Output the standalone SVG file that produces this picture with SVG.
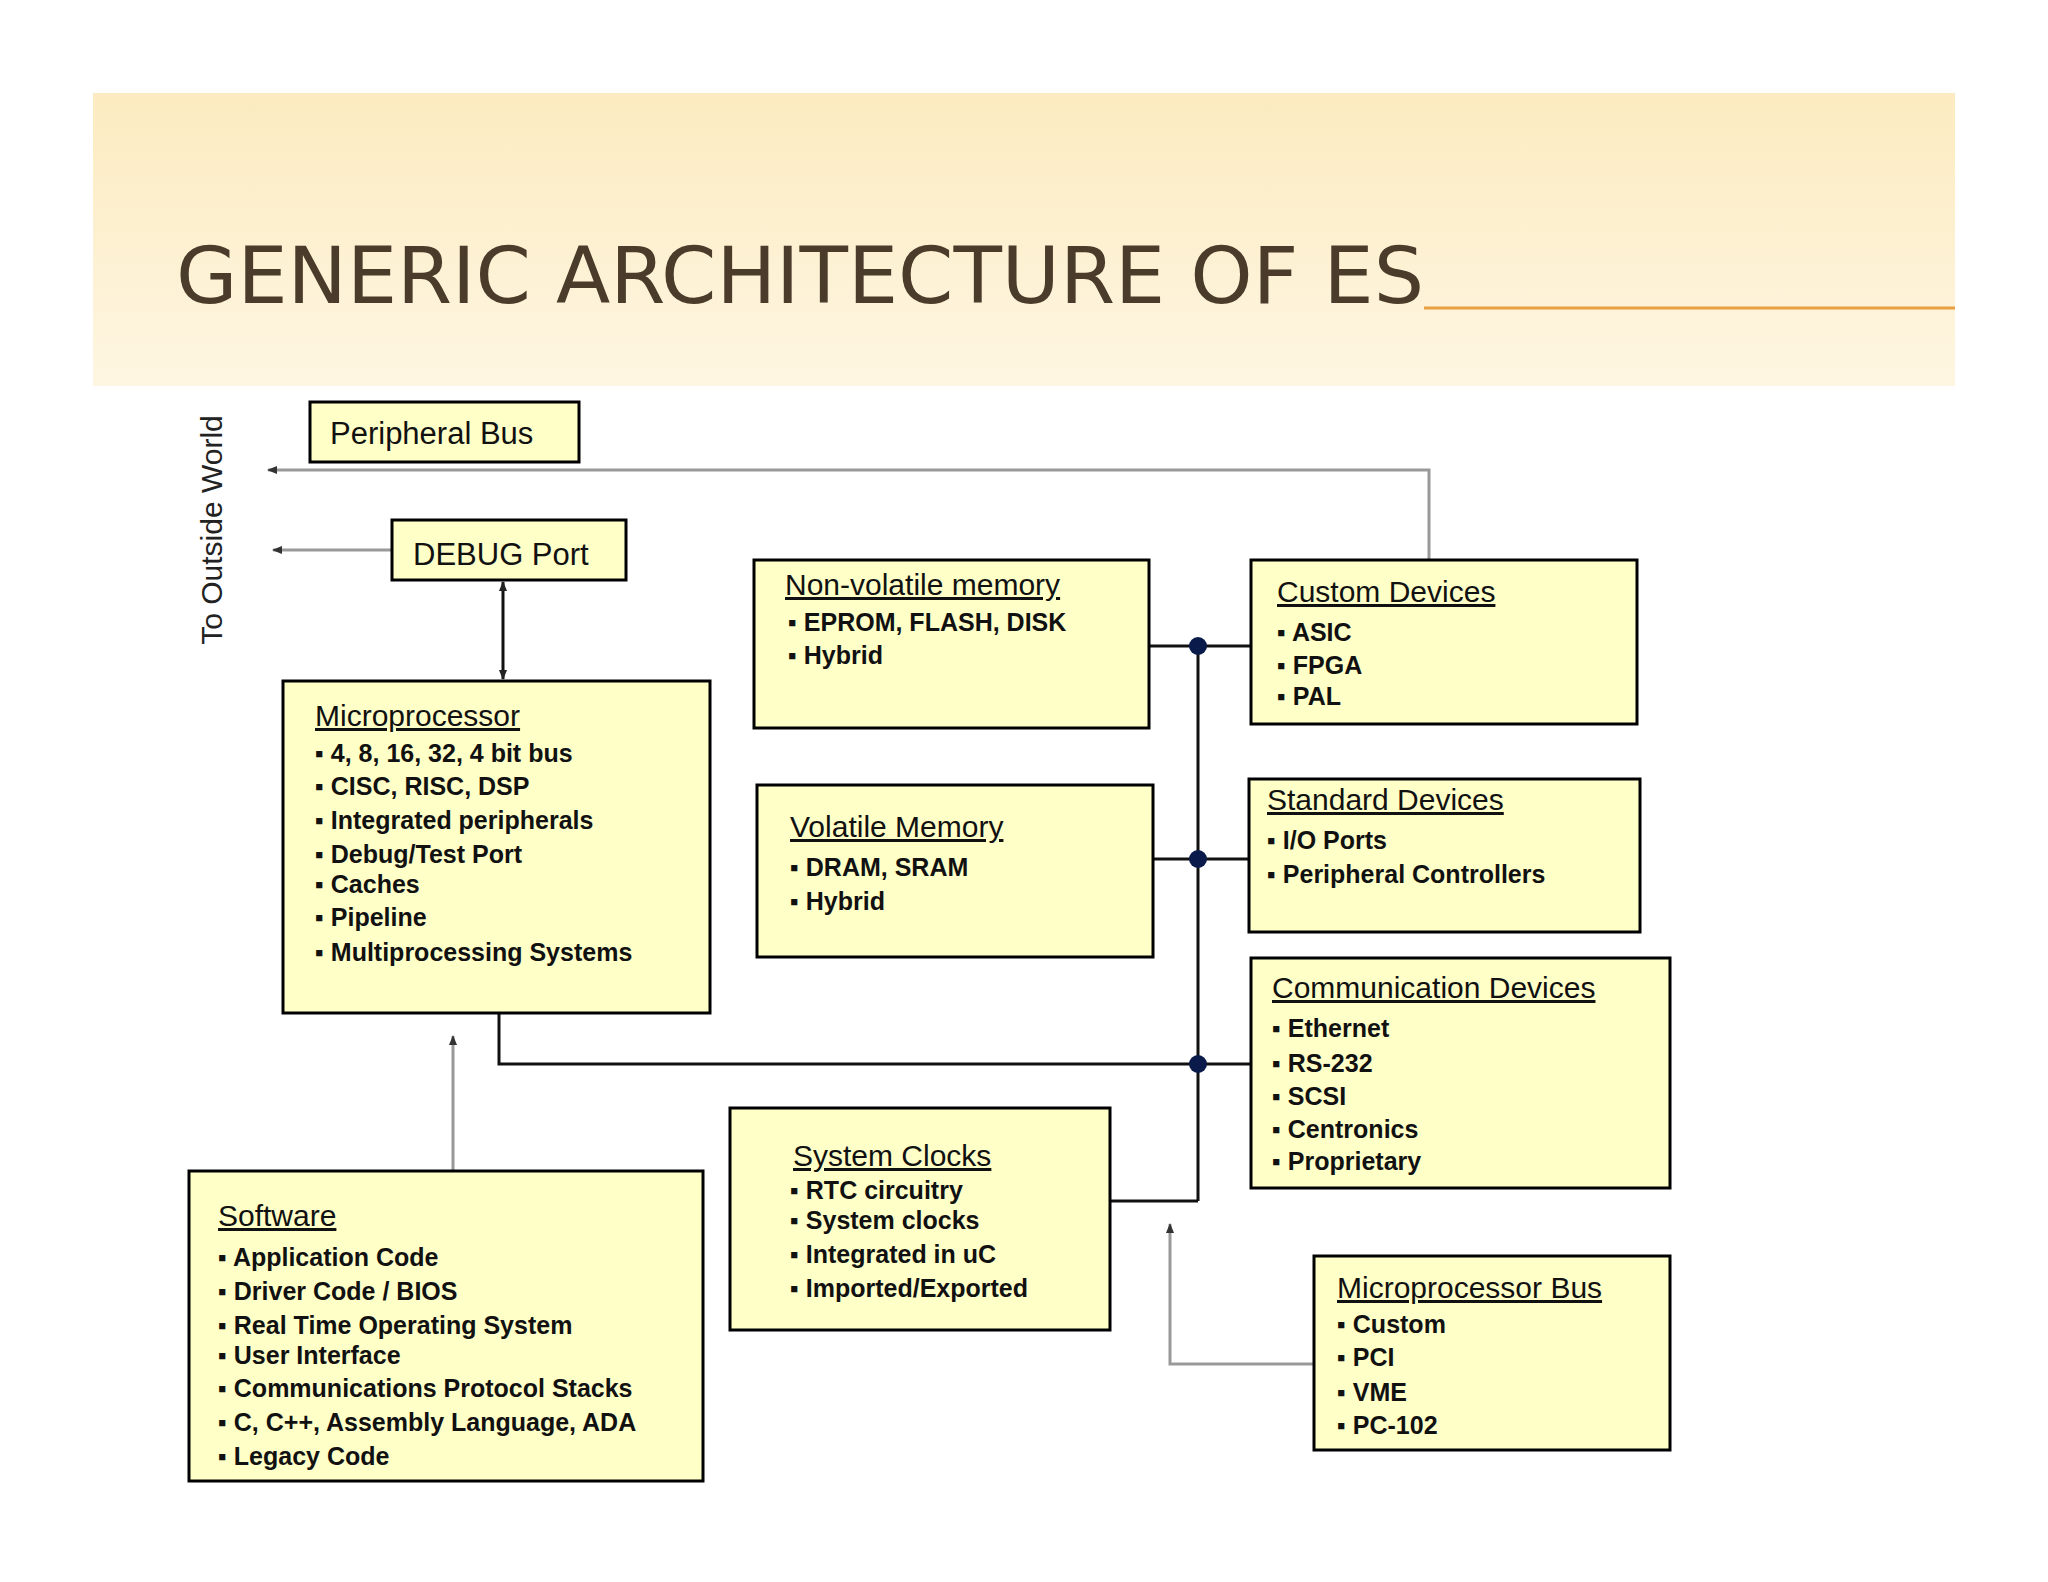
<svg xmlns="http://www.w3.org/2000/svg" width="2048" height="1582" viewBox="0 0 2048 1582">
<defs>
<linearGradient id="bg" x1="0" y1="0" x2="0" y2="1"><stop offset="0" stop-color="#FCEBC0"/><stop offset="1" stop-color="#FEF6E2"/></linearGradient>
<marker id="ah" markerWidth="10" markerHeight="10" refX="9" refY="5" orient="auto-start-reverse" markerUnits="userSpaceOnUse"><path d="M0,1 L10,5 L0,9 Z" fill="#222"/></marker>
<marker id="ahg" markerWidth="10" markerHeight="10" refX="9" refY="5" orient="auto" markerUnits="userSpaceOnUse"><path d="M0,1 L10,5 L0,9 Z" fill="#333"/></marker>
</defs>
<style>
.box{fill:#FFFFC8;stroke:#000;stroke-width:3}
.t{font-family:"Liberation Sans",Arial,sans-serif;font-size:30px;fill:#111;text-decoration:underline}
.b{font-family:"Liberation Sans",Arial,sans-serif;font-size:25px;font-weight:bold;fill:#111}
.lbl{font-family:"Liberation Sans",Arial,sans-serif;font-size:31px;fill:#111}
.ln{fill:none;stroke:#111;stroke-width:3}
.gl{fill:none;stroke:#999;stroke-width:3}
.dot{fill:#0A1A4A}
</style>
<rect width="2048" height="1582" fill="#fff"/>
<rect x="93" y="93" width="1862" height="293" fill="url(#bg)"/>
<line x1="1424" y1="308" x2="1955" y2="308" stroke="#E8A040" stroke-width="3"/>
<text x="176" y="303" font-family="'Liberation Sans Narrow','DejaVu Sans Condensed',sans-serif" font-size="78" fill="#4A3B2A" textLength="1248" lengthAdjust="spacingAndGlyphs">GENERIC ARCHITECTURE OF ES</text>
<text transform="translate(222,530) rotate(-90)" text-anchor="middle" font-family="'Liberation Sans',Arial,sans-serif" font-size="30" fill="#222">To Outside World</text>

<g id="connectors">
<polyline class="gl" points="1429,560 1429,470 268,470" marker-end="url(#ahg)"/>
<line class="gl" x1="392" y1="550" x2="273" y2="550" marker-end="url(#ahg)"/>
<line class="ln" x1="503" y1="582" x2="503" y2="679" stroke-width="2" marker-start="url(#ah)" marker-end="url(#ah)"/>
<line class="ln" x1="1198" y1="646" x2="1198" y2="1201"/>
<line class="ln" x1="1149" y1="646" x2="1251" y2="646"/>
<line class="ln" x1="1153" y1="859" x2="1249" y2="859"/>
<polyline class="ln" points="499,1013 499,1064 1251,1064"/>
<polyline class="ln" points="1110,1201 1198,1201"/>
<line class="gl" x1="453" y1="1171" x2="453" y2="1036" marker-end="url(#ahg)"/>
<polyline class="gl" points="1314,1364 1170,1364 1170,1224" marker-end="url(#ahg)"/>
<circle class="dot" cx="1198" cy="646" r="9"/>
<circle class="dot" cx="1198" cy="859" r="9"/>
<circle class="dot" cx="1198" cy="1064" r="9"/>
</g>

<g id="peripheral-bus"><rect class="box" x="310" y="402" width="269" height="60"/><text class="lbl" x="330" y="444">Peripheral Bus</text></g>
<g id="debug-port"><rect class="box" x="392" y="520" width="234" height="60"/><text class="lbl" x="413" y="565" font-size="32">DEBUG Port</text></g>
<g id="nonvolatile"><rect class="box" x="754" y="560" width="395" height="168"/>
<text class="t" x="785" y="595">Non-volatile memory</text>
<text class="b" x="788" y="631">▪ EPROM, FLASH, DISK</text>
<text class="b" x="788" y="664">▪ Hybrid</text></g>
<g id="custom"><rect class="box" x="1251" y="560" width="386" height="164"/>
<text class="t" x="1277" y="602">Custom Devices</text>
<text class="b" x="1277" y="641">▪ ASIC</text>
<text class="b" x="1277" y="674">▪ FPGA</text>
<text class="b" x="1277" y="705">▪ PAL</text></g>
<g id="microprocessor"><rect class="box" x="283" y="681" width="427" height="332"/>
<text class="t" x="315" y="726">Microprocessor</text>
<text class="b" x="315" y="762">▪ 4, 8, 16, 32, 4 bit bus</text>
<text class="b" x="315" y="795">▪ CISC, RISC, DSP</text>
<text class="b" x="315" y="829">▪ Integrated peripherals</text>
<text class="b" x="315" y="863">▪ Debug/Test Port</text>
<text class="b" x="315" y="893">▪ Caches</text>
<text class="b" x="315" y="926">▪ Pipeline</text>
<text class="b" x="315" y="961">▪ Multiprocessing Systems</text></g>
<g id="volatile"><rect class="box" x="757" y="785" width="396" height="172"/>
<text class="t" x="790" y="837">Volatile Memory</text>
<text class="b" x="790" y="876">▪ DRAM, SRAM</text>
<text class="b" x="790" y="910">▪ Hybrid</text></g>
<g id="standard"><rect class="box" x="1249" y="779" width="391" height="153"/>
<text class="t" x="1267" y="810">Standard Devices</text>
<text class="b" x="1267" y="849">▪ I/O Ports</text>
<text class="b" x="1267" y="883">▪ Peripheral Controllers</text></g>
<g id="communication"><rect class="box" x="1251" y="958" width="419" height="230"/>
<text class="t" x="1272" y="998">Communication Devices</text>
<text class="b" x="1272" y="1037">▪ Ethernet</text>
<text class="b" x="1272" y="1072">▪ RS-232</text>
<text class="b" x="1272" y="1105">▪ SCSI</text>
<text class="b" x="1272" y="1138">▪ Centronics</text>
<text class="b" x="1272" y="1170">▪ Proprietary</text></g>
<g id="system-clocks"><rect class="box" x="730" y="1108" width="380" height="222"/>
<text class="t" x="793" y="1166">System Clocks</text>
<text class="b" x="790" y="1199">▪ RTC circuitry</text>
<text class="b" x="790" y="1229">▪ System clocks</text>
<text class="b" x="790" y="1263">▪ Integrated in uC</text>
<text class="b" x="790" y="1297">▪ Imported/Exported</text></g>
<g id="software"><rect class="box" x="189" y="1171" width="514" height="310"/>
<text class="t" x="218" y="1226">Software</text>
<text class="b" x="218" y="1266">▪ Application Code</text>
<text class="b" x="218" y="1300">▪ Driver Code / BIOS</text>
<text class="b" x="218" y="1334">▪ Real Time Operating System</text>
<text class="b" x="218" y="1364">▪ User Interface</text>
<text class="b" x="218" y="1397">▪ Communications Protocol Stacks</text>
<text class="b" x="218" y="1431">▪ C, C++, Assembly Language, ADA</text>
<text class="b" x="218" y="1465">▪ Legacy Code</text></g>
<g id="mp-bus"><rect class="box" x="1314" y="1256" width="356" height="194"/>
<text class="t" x="1337" y="1298">Microprocessor Bus</text>
<text class="b" x="1337" y="1333">▪ Custom</text>
<text class="b" x="1337" y="1366">▪ PCI</text>
<text class="b" x="1337" y="1401">▪ VME</text>
<text class="b" x="1337" y="1434">▪ PC-102</text></g>
</svg>
